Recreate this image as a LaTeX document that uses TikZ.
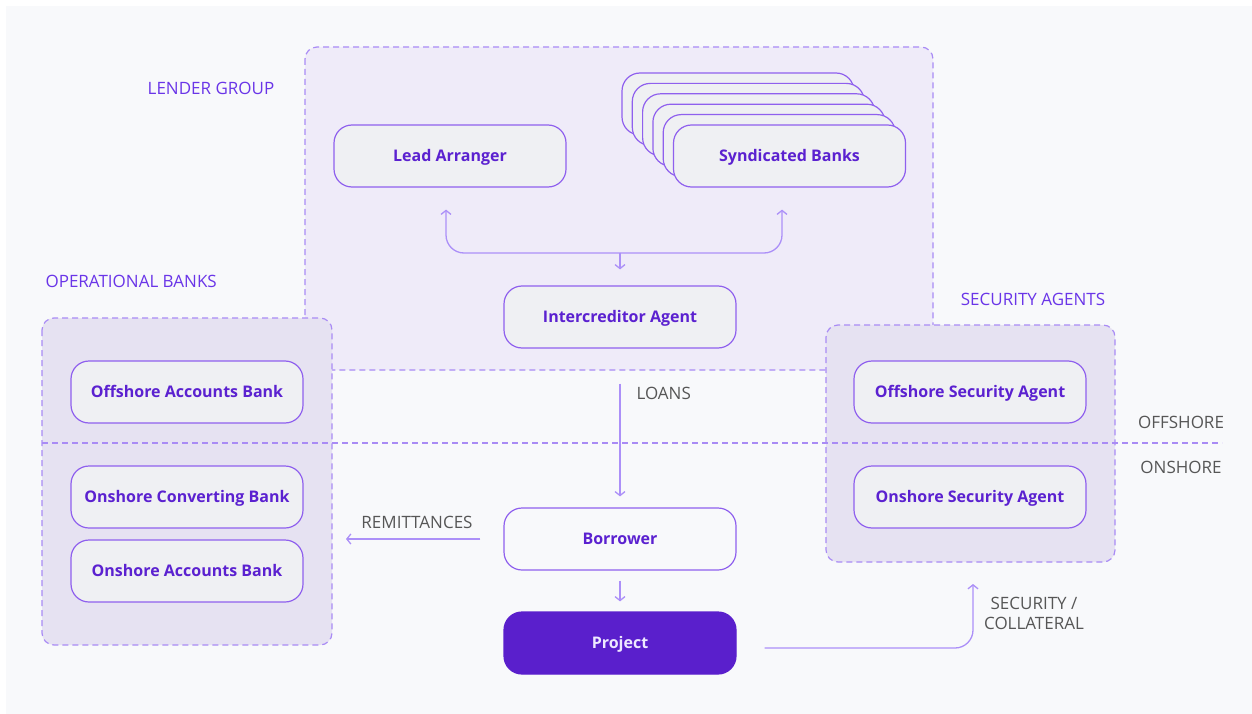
\documentclass[tikz,border=0pt]{standalone}
\usepackage{fontspec}
\setmainfont{Open Sans}
\usepackage{tikz}
\usetikzlibrary{positioning,calc,arrows.meta}
\definecolor{pagebg}{HTML}{F8F9FB}
\definecolor{lenderbg}{HTML}{EFEBF9}
\definecolor{groupbg}{HTML}{E6E2F2}
\definecolor{dashcol}{HTML}{A98BF5}
\definecolor{boxfill}{HTML}{EFF0F3}
\definecolor{boxline}{HTML}{8F60EE}
\definecolor{boxtext}{HTML}{5B21D0}
\definecolor{projfill}{HTML}{5A1FCC}
\definecolor{projtext}{HTML}{EEE9FF}
\definecolor{flowcol}{HTML}{AC90F8}
\definecolor{labeltext}{HTML}{565656}
\definecolor{grouptext}{HTML}{6A35E8}
\tikzset{
    block/.style={rectangle, rounded corners=18pt, minimum width=232pt, minimum height=62pt, draw=boxline, line width=1.2pt, fill=boxfill, text=boxtext, text height=11.5pt, text depth=0pt, font=\bfseries\fontsize{16}{19}\selectfont},
    group/.style={draw=dashcol, line width=1.2pt, dash pattern=on 6pt off 4pt, rounded corners=12pt},
    line/.style={draw=flowcol, line width=1.3pt, -{Straight Barb[length=4pt,width=10pt]}},
    tag/.style={text=grouptext, font=\fontsize{17}{20}\selectfont},
    flowtag/.style={text=labeltext, font=\fontsize{17}{20}\selectfont, align=center},
}
\begin{document}
\begin{tikzpicture}
        [x=1pt, y=-1pt]

        \useasboundingbox (0,0) rectangle (1252,714);
        \fill[white] (0,0) rectangle (1252,714);
        \fill[pagebg] (6,6) rectangle (1252,714);

        % groups
        \draw[group, fill=lenderbg] (305,47) rectangle (933,370);
        \draw[group, fill=groupbg] (42,318) rectangle (332,645);
        \draw[group, fill=groupbg] (826,325) rectangle (1115,562);
        \draw[group, rounded corners=0pt] (42,443) -- (1222,443);

        \node[tag] (lendertag) at (211,88) {LENDER GROUP};
        \node[tag, anchor=west] (opertag) at (42,281) {OPERATIONAL BANKS};
        \node[tag] (sectag) at (1033,299) {SECURITY AGENTS};
        \node[flowtag] (offtag) at (1181,422) {OFFSHORE};
        \node[flowtag] (ontag) at (1181,467) {ONSHORE};

        % lender group
        \node[block] (lead) at (450,156) {Lead Arranger};
        \coordinate (syndpos) at (789.5,156);
        \foreach \i in {5,...,1}
            \node[block] at ($(syndpos)+(-10.3*\i,-10.4*\i)$) {};
        \node[block] (synd) at (syndpos) {Syndicated Banks};
        \node[block] (agent) at (620,317) {Intercreditor Agent};

        % operational banks
        \node[block] (offbank) at (187,392) {Offshore Accounts Bank};
        \node[block] (convbank) at (187,497) {Onshore Converting Bank};
        \node[block] (onbank) at (187,571) {Onshore Accounts Bank};

        % security agents
        \node[block] (offagent) at (970,392) {Offshore Security Agent};
        \node[block] (onagent) at (970,497) {Onshore Security Agent};

        \node[block, fill=pagebg] (borrower) at (620,539) {Borrower};
        \node[block, fill=projfill, draw=projfill, text=projtext] (project) at (620,643) {Project};

        \coordinate (hub) at (620,253);
        \draw[line] (hub) -- ($(agent.north)+(0,-16)$);
        \draw[line, rounded corners=18pt] (hub) -| ($(lead.south)+(-4,22)$);
        \draw[line, rounded corners=18pt] (hub) -| ($(synd.south)+(-7.5,22)$);

        \draw[line] ($(agent.south)+(0,35)$) -- ($(borrower.north)+(0,-11)$);
        \node[flowtag, anchor=west] (loans) at (633,393) {LOANS};

        \draw[line] ($(borrower.south)+(0,10)$) -- ($(project.north)+(0,-10)$);

        \coordinate (remitend) at (346,539);
        \draw[line] ($(borrower.west)+(-23,0)$) -- (remitend);
        \node[flowtag] (remit) at (417,522) {REMITTANCES};

        \coordinate (secend) at (973,584);
        \draw[line, rounded corners=18pt] ($(project.east)+(28,5)$) -| (secend);
        \node[flowtag] (collat) at (1034,613) {SECURITY /\\COLLATERAL};

    \end{tikzpicture}
\end{document}
